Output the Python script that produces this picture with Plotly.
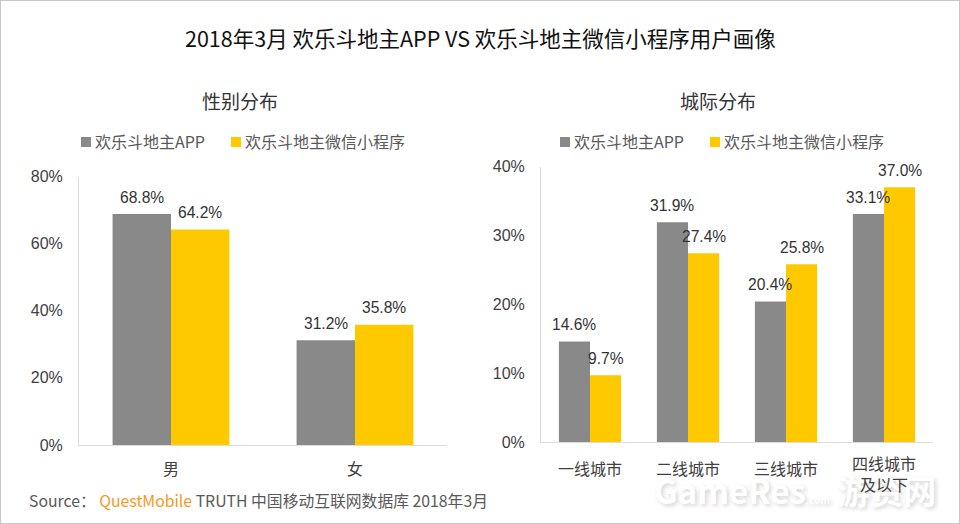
import plotly.graph_objects as go

app_name = "欢乐斗地主APP"
mini_name = "欢乐斗地主微信小程序"

gender_cats = ["男", "女"]
gender_app = [68.8, 31.2]
gender_mini = [64.2, 35.8]

city_cats = ["一线城市", "二线城市", "三线城市", "四线城市及以下"]
city_ticks = ["一线城市", "二线城市", "三线城市", ""]
city_last_tick = "四线城市<br>及以下"
city_app = [14.6, 31.9, 20.4, 33.1]
city_mini = [9.7, 27.4, 25.8, 37.0]

gender_yticks = [0, 20, 40, 60, 80]
city_yticks = [0, 10, 20, 30, 40]

W, H = 960, 524
GRAY = "#898989"
YELLOW = "#ffc900"
FONT = "'Liberation Sans', 'Noto Sans CJK SC', sans-serif"
CJK = "'Noto Sans CJK SC', sans-serif"


def px(x):
    return x / W


def py(y):
    return 1 - y / H


def bars(name, cats, vals, color, xa, ya):
    return go.Bar(name=name, x=cats, y=vals, marker=dict(color=color, line_width=0),
                  xaxis=xa, yaxis=ya, showlegend=False)


fig = go.Figure()
fig.add_trace(bars(app_name, gender_cats, gender_app, GRAY, "x", "y"))
fig.add_trace(bars(mini_name, gender_cats, gender_mini, YELLOW, "x", "y"))
fig.add_trace(bars(app_name, city_cats, city_app, GRAY, "x2", "y2"))
fig.add_trace(bars(mini_name, city_cats, city_mini, YELLOW, "x2", "y2"))

xaxis_style = dict(showgrid=False, showline=True, linecolor="#dcdcdc", linewidth=1, ticks="",
                   automargin=False, tickfont=dict(size=16, color="#404040", family=CJK))
yaxis_style = dict(showgrid=False, showline=True, linecolor="#dcdcdc", linewidth=1, ticks="",
                   automargin=False, zeroline=False, ticklabelstandoff=12,
                   tickfont=dict(size=16, color="#404040", family=FONT))

# the frame around the picture
shapes = [dict(type="rect", xref="paper", yref="paper", x0=0, x1=1, y0=0, y1=1,
               line=dict(color="#c8c8c8", width=2), fillcolor="rgba(0,0,0,0)")]

fig.update_layout(
    width=W, height=H, margin=dict(l=0, r=0, t=0, b=0, pad=0),
    paper_bgcolor="white", plot_bgcolor="white",
    barmode="group", bargap=0.365, bargroupgap=0, showlegend=False,
    xaxis=dict(domain=[px(79), px(447)], anchor="y", ticklabelstandoff=10, **xaxis_style),
    yaxis=dict(domain=[py(445), py(176.5)], anchor="x", range=[0, 80], tickvals=gender_yticks,
               ticktext=[f"{v}%" for v in gender_yticks], **yaxis_style),
    xaxis2=dict(domain=[px(541), px(933)], anchor="y2", ticklabelstandoff=13,
                tickvals=city_cats, ticktext=city_ticks, **xaxis_style),
    yaxis2=dict(domain=[py(442), py(166.5)], anchor="x2", range=[0, 40], tickvals=city_yticks,
                ticktext=[f"{v}%" for v in city_yticks], **yaxis_style),
)


def label(text, x, y, size, color, anchor="center", family=CJK, **kw):
    fig.add_annotation(text=text, xref="paper", yref="paper", x=px(x), y=py(y), showarrow=False,
                       xanchor=anchor, yanchor="middle",
                       font=dict(size=size, color=color, family=family, **kw))


def value_labels(cats, vals, xa, ya, xshift):
    for c, v in zip(cats, vals):
        fig.add_annotation(text=f"{v:.1f}%", x=c, y=v, xref=xa, yref=ya, showarrow=False,
                           xshift=xshift, yshift=17, yanchor="middle",
                           font=dict(size=15.6, color="#333333", family=FONT))


# watermark goes first so the texts lie over it
label("GameRes<span style='font-size:10px'>.com</span> 游资网", 795, 490, 33, "#ffffff",
      shadow="2px 2px 4px #d4d4d4", weight="bold")

value_labels(gender_cats, gender_app, "x", "y", -29)
value_labels(gender_cats, gender_mini, "x", "y", 29)
value_labels(city_cats, city_app, "x2", "y2", -16)
value_labels(city_cats, city_mini, "x2", "y2", 16)

# legends drawn by hand, plotly keeps too wide a gap after the swatch
for x0 in (81, 560):
    shapes.append(dict(type="rect", xref="paper", yref="paper", x0=px(x0), x1=px(x0 + 10),
                       y0=py(147), y1=py(137), fillcolor=GRAY, line_width=0))
    shapes.append(dict(type="rect", xref="paper", yref="paper", x0=px(x0 + 150), x1=px(x0 + 160),
                       y0=py(147), y1=py(137), fillcolor=YELLOW, line_width=0))
    label(app_name, x0 + 12, 141, 16, "#595959", anchor="left")
    label(mini_name, x0 + 162, 141, 16, "#595959", anchor="left")
fig.update_layout(shapes=shapes)

fig.add_annotation(text=city_last_tick, x=city_cats[3], xref="x2", yref="paper", y=py(473), showarrow=False,
                   yanchor="middle", font=dict(size=16, color="#404040", family=CJK))

label("2018年3月 欢乐斗地主APP VS 欢乐斗地主微信小程序用户画像", 480, 38, 21.5, "#111111")
label("性别分布", 240, 101, 19, "#333333")
label("城际分布", 718, 101, 19, "#333333")
label("Source： <span style='color:#f59a23'>QuestMobile</span> TRUTH 中国移动互联网数据库 2018年3月",
      27, 500, 15.8, "#595959", anchor="left")

# pin the plot to the window corner, the default page leaves a margin around it
pin = ("var g = document.getElementById('{plot_id}'); g.style.position = 'fixed';"
       "g.style.left = '0'; g.style.top = '0'; document.body.style.margin = '0';")
fig.write_html("out.html", post_script=pin, config=dict(displayModeBar=False))
